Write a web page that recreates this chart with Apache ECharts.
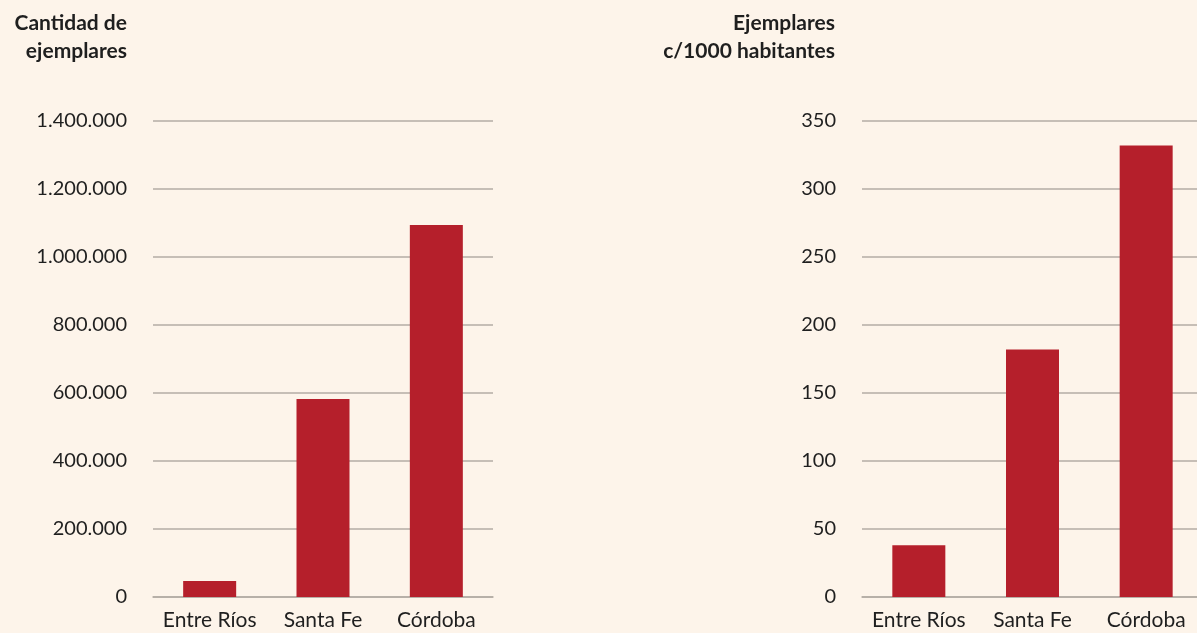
<!DOCTYPE html>
<html lang="es">
<head>
    <meta charset="UTF-8">
    <script src="https://cdn.jsdelivr.net/npm/echarts@6/dist/echarts.min.js"></script>
    <title>Ejemplares por provincia</title>
</head>
<body>
    <style>
        html, body {
            margin: 0;
            overflow: hidden;
            background: #fdf4ea;
        }
        #main {
            width: 1205px;
            height: 633px;
        }
    </style>
    <div id="main"></div>
    <script>
        var provincias = ['Entre Ríos', 'Santa Fe', 'Córdoba'];
        var ejemplares = [47000, 582000, 1094000];
        var porMilHab = [38, 182, 332];

        var rojo = '#b51f2b';
        var gris = '#b3aca4';
        var texto = '#1f1f1f';
        var fuente = 'Lato';

        function miles(v) {
            return String(v).replace(/\B(?=(\d{3})+(?!\d))/g, '.');
        }

        var chart = echarts.init(document.getElementById('main'));

        function ejeX(i) {
            return {
                type: 'category',
                gridIndex: i,
                data: provincias,
                axisTick: {show: false},
                axisLine: {lineStyle: {color: gris, width: 1.5}},
                axisLabel: {color: texto, fontFamily: fuente, fontSize: 21, margin: 13, interval: 0}
            };
        }
        function ejeY(i, max, interval, fmt) {
            return {
                type: 'value',
                gridIndex: i,
                min: 0,
                max: max,
                interval: interval,
                axisLine: {show: false},
                axisTick: {show: false},
                splitLine: {lineStyle: {color: gris, width: 1.5}},
                axisLabel: {color: texto, fontFamily: fuente, fontSize: 20, margin: 26, formatter: fmt}
            };
        }

        chart.setOption({
            backgroundColor: '#fdf4ea',
            animation: false,
            title: [
                {
                    text: 'Cantidad de\nejemplares',
                    left: 122,
                    top: 4,
                    textAlign: 'right',
                    textStyle: {fontFamily: fuente, fontSize: 21, fontWeight: 'bold', color: texto, lineHeight: 28, align: 'right'}
                },
                {
                    text: 'Ejemplares\nc/1000 habitantes',
                    left: 830,
                    top: 4,
                    textAlign: 'right',
                    textStyle: {fontFamily: fuente, fontSize: 21, fontWeight: 'bold', color: texto, lineHeight: 28, align: 'right'}
                }
            ],
            grid: [
                {left: 153, width: 340, top: 121, height: 476},
                {left: 862, width: 341, top: 121, height: 476}
            ],
            xAxis: [ejeX(0), ejeX(1)],
            yAxis: [
                ejeY(0, 1400000, 200000, miles),
                ejeY(1, 350, 50)
            ],
            series: [
                {
                    type: 'bar',
                    xAxisIndex: 0,
                    yAxisIndex: 0,
                    barWidth: 53,
                    itemStyle: {color: rojo},
                    data: ejemplares
                },
                {
                    type: 'bar',
                    xAxisIndex: 1,
                    yAxisIndex: 1,
                    barWidth: 53,
                    itemStyle: {color: rojo},
                    data: porMilHab
                }
            ]
        });
    </script>
</body>
</html>
